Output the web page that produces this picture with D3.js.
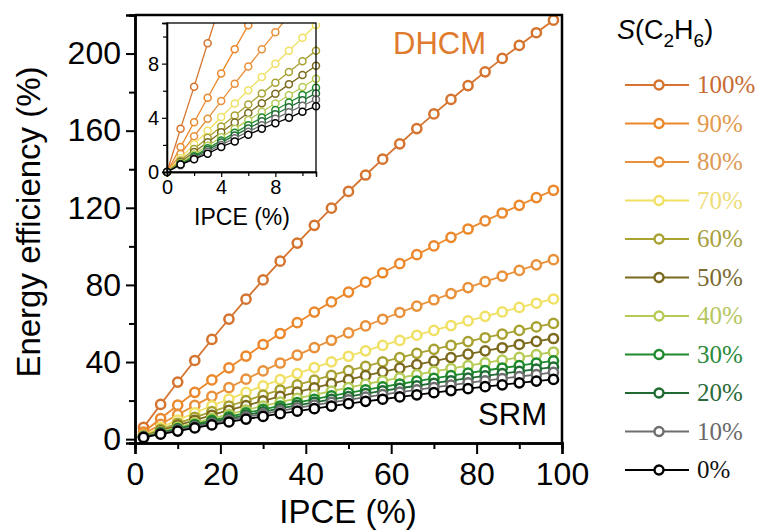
<!DOCTYPE html>
<html lang="en">
<head>
<meta charset="utf-8">
<title>Energy efficiency vs IPCE</title>
<script src="https://d3js.org/d3.v7.min.js"></script>
<style>
	body { margin: 0; background: #fff; }
	svg { font-family: "Liberation Sans", Arial, sans-serif; }
	.legtext { font-family: "Liberation Serif", "Times New Roman", serif; }
</style>
</head>
<body>
<script>
// IPCE sampling of the main plot and of the inset
var ipce = [2, 6, 10, 14, 18, 22, 26, 30, 34, 38, 42, 46, 50, 54, 58, 62, 66, 70, 74, 78, 82, 86, 90, 94, 98];
var ipceInset = [0, 1, 2, 3, 4, 5, 6, 7, 8, 9, 10, 11];

var labels = ["100%", "90%", "80%", "70%", "60%", "50%", "40%", "30%", "20%", "10%", "0%"];
var colors = ["#d5742f", "#ec882c", "#e8913a", "#f0e064", "#a8a232", "#7b6a1e", "#b6cb56", "#1f8a2c", "#1f6b32", "#6e6e6e", "#000000"];
var textColors = ["#c86a32", "#e29a4c", "#dc9a56", "#eedc78", "#a8a040", "#7a6a30", "#b6c65e", "#2a8a3a", "#2a6a3a", "#6a6a6a", "#111111"];

// energy efficiency (%) per S(C2H6), main plot
var e100 = [6.1, 18.0, 29.6, 40.8, 51.7, 62.3, 72.6, 82.6, 92.3, 101.7, 110.9, 119.8, 128.5, 137.0, 145.2, 153.2, 161.1, 168.7, 176.2, 183.4, 190.5, 197.5, 204.2, 210.8, 217.3];
var e90 = [3.6, 10.7, 17.6, 24.3, 30.7, 37.0, 43.1, 49.1, 54.8, 60.4, 65.9, 71.2, 76.3, 81.4, 86.3, 91.0, 95.7, 100.2, 104.7, 109.0, 113.2, 117.3, 121.3, 125.3, 129.1];
var e80 = [2.6, 7.7, 12.7, 17.5, 22.2, 26.7, 31.1, 35.4, 39.5, 43.6, 47.5, 51.3, 55.1, 58.7, 62.2, 65.7, 69.0, 72.3, 75.5, 78.6, 81.7, 84.6, 87.5, 90.4, 93.1];
var e70 = [2.0, 6.0, 9.9, 13.7, 17.3, 20.8, 24.3, 27.6, 30.9, 34.0, 37.1, 40.1, 43.0, 45.8, 48.6, 51.2, 53.9, 56.4, 58.9, 61.3, 63.7, 66.0, 68.3, 70.5, 72.7];
var e60 = [1.7, 5.0, 8.2, 11.3, 14.3, 17.2, 20.0, 22.8, 25.5, 28.1, 30.6, 33.1, 35.5, 37.8, 40.1, 42.3, 44.5, 46.6, 48.6, 50.6, 52.6, 54.5, 56.4, 58.2, 60.0];
var e50 = [1.5, 4.3, 7.1, 9.8, 12.4, 15.0, 17.4, 19.8, 22.2, 24.4, 26.6, 28.8, 30.9, 32.9, 34.9, 36.8, 38.7, 40.5, 42.3, 44.1, 45.8, 47.4, 49.1, 50.7, 52.2];
var e40 = [1.3, 3.8, 6.2, 8.5, 10.8, 12.9, 15.1, 17.2, 19.2, 21.1, 23.0, 24.9, 26.7, 28.5, 30.2, 31.8, 33.5, 35.1, 36.6, 38.1, 39.6, 41.0, 42.4, 43.8, 45.2];
var e30 = [1.1, 3.4, 5.5, 7.6, 9.7, 11.6, 13.6, 15.4, 17.2, 19.0, 20.7, 22.4, 24.0, 25.6, 27.1, 28.6, 30.1, 31.5, 32.9, 34.2, 35.6, 36.9, 38.1, 39.4, 40.6];
var e20 = [1.1, 3.1, 5.1, 7.0, 8.9, 10.7, 12.5, 14.2, 15.9, 17.5, 19.1, 20.6, 22.1, 23.6, 25.0, 26.4, 27.7, 29.0, 30.3, 31.6, 32.8, 34.0, 35.1, 36.3, 37.4];
var e10 = [1.0, 2.9, 4.7, 6.5, 8.2, 9.9, 11.5, 13.1, 14.7, 16.2, 17.6, 19.1, 20.4, 21.8, 23.1, 24.4, 25.6, 26.8, 28.0, 29.2, 30.3, 31.4, 32.5, 33.5, 34.6];
var e0 = [0.9, 2.6, 4.2, 5.8, 7.4, 8.9, 10.4, 11.8, 13.2, 14.5, 15.8, 17.1, 18.4, 19.6, 20.7, 21.9, 23.0, 24.1, 25.2, 26.2, 27.2, 28.2, 29.2, 30.1, 31.0];

// inset (low IPCE)
var i100 = [0, 3.2, 6.3, 9.5, 12.6, 15.7, 18.8, 21.9, 24.9, 27.9, 30.9, 33.9];
var i90 = [0, 1.84, 3.67, 5.48, 7.28, 9.07, 10.84, 12.6, 14.3, 16.1, 17.8, 19.5];
var i80 = [0, 1.32, 2.64, 3.94, 5.24, 6.52, 7.79, 9.06, 10.31, 11.56, 12.8, 14.0];
var i70 = [0, 1.03, 2.04, 3.05, 4.06, 5.05, 6.04, 7.01, 7.99, 8.95, 9.91, 10.86];
var i60 = [0, 0.85, 1.69, 2.52, 3.35, 4.17, 4.98, 5.79, 6.59, 7.39, 8.18, 8.96];
var i50 = [0, 0.74, 1.47, 2.2, 2.93, 3.65, 4.36, 5.07, 5.77, 6.47, 7.16, 7.84];
var i40 = [0, 0.65, 1.3, 1.94, 2.57, 3.2, 3.83, 4.45, 5.06, 5.67, 6.28, 6.88];
var i30 = [0, 0.59, 1.17, 1.75, 2.32, 2.89, 3.46, 4.02, 4.58, 5.13, 5.68, 6.22];
var i20 = [0, 0.55, 1.09, 1.63, 2.17, 2.7, 3.22, 3.74, 4.26, 4.78, 5.29, 5.8];
var i10 = [0, 0.5, 1.0, 1.5, 2.0, 2.49, 2.98, 3.46, 3.94, 4.42, 4.89, 5.36];
var i0 = [0, 0.55, 0.95, 1.35, 1.85, 2.25, 2.75, 3.2, 3.6, 4.0, 4.45, 4.85];

var mainSeries = [e100, e90, e80, e70, e60, e50, e40, e30, e20, e10, e0];
var insetSeries = [i100, i90, i80, i70, i60, i50, i40, i30, i20, i10, i0];

var width = 768, height = 531;

var svg = d3.select("body").append("svg")
	.attr("width", width)
	.attr("height", height);

// main plot
var x = d3.scaleLinear().domain([0, 100]).range([135, 562]);
var y = d3.scaleLinear().domain([-2, 220]).range([443, 15]);

var plot = svg.append("g");

var line = d3.line()
	.x(function(d) { return x(d[0]); })
	.y(function(d) { return y(d[1]); });

mainSeries.forEach(function(vals, k) {
	var pts = vals.map(function(v, i) { return [ipce[i], v]; });
	var g = plot.append("g");
	g.append("path")
		.attr("d", line(pts))
		.attr("fill", "none")
		.attr("stroke", colors[k])
		.attr("stroke-width", 1.8);
	g.selectAll("circle")
		.data(pts)
		.enter()
		.append("circle")
		.attr("cx", function(d) { return x(d[0]); })
		.attr("cy", function(d) { return y(d[1]); })
		.attr("r", 4.6)
		.attr("fill", "#fff")
		.attr("stroke", colors[k])
		.attr("stroke-width", 2.5);
});

// frame
svg.append("path")
	.attr("d", "M" + x(0) + "," + y(220) + "H" + x(100) + "V" + y(-2))
	.attr("fill", "none")
	.attr("stroke", "#000")
	.attr("stroke-width", 2.5);

var xAxis = svg.append("g")
	.attr("transform", "translate(0," + y(-2) + ")")
	.call(d3.axisBottom(x).tickValues([0, 20, 40, 60, 80, 100]).tickSize(11).tickPadding(6));
svg.append("g")
	.attr("transform", "translate(0," + y(-2) + ")")
	.call(d3.axisBottom(x).tickValues([10, 30, 50, 70, 90]).tickSize(6).tickFormat(""));

var yAxis = svg.append("g")
	.attr("transform", "translate(" + x(0) + ",0)")
	.call(d3.axisLeft(y).tickValues([0, 40, 80, 120, 160, 200]).tickSize(9).tickPadding(5));
svg.append("g")
	.attr("transform", "translate(" + x(0) + ",0)")
	.call(d3.axisLeft(y).tickValues([20, 60, 100, 140, 180]).tickSize(6).tickFormat(""));

svg.selectAll(".domain").attr("stroke-width", 2.5);
svg.selectAll(".tick line").attr("stroke-width", 2);
svg.selectAll(".tick text")
	.attr("font-size", 32)
	.attr("font-family", "Liberation Sans, Arial, sans-serif")
	.attr("fill", "#000");
xAxis.selectAll(".tick text").attr("dy", "0.78em");

svg.append("text")
	.attr("transform", "translate(40,222) rotate(-90)")
	.attr("text-anchor", "middle")
	.attr("font-size", 33)
	.text("Energy efficiency (%)");

svg.append("text")
	.attr("x", 348)
	.attr("y", 523)
	.attr("text-anchor", "middle")
	.attr("font-size", 33)
	.text("IPCE (%)");

svg.append("text")
	.attr("x", 486)
	.attr("y", 54)
	.attr("text-anchor", "end")
	.attr("font-size", 31)
	.attr("fill", "#e07a2e")
	.text("DHCM");

svg.append("text")
	.attr("x", 547)
	.attr("y", 425)
	.attr("text-anchor", "end")
	.attr("font-size", 31)
	.attr("fill", "#000")
	.text("SRM");

// inset
var xi = d3.scaleLinear().domain([0, 11]).range([167, 316]);
var yi = d3.scaleLinear().domain([0, 11]).range([172, 23]);

var inset = svg.append("g");
inset.append("rect")
	.attr("x", xi(0)).attr("y", yi(11))
	.attr("width", xi(11) - xi(0)).attr("height", yi(0) - yi(11))
	.attr("fill", "#fff");

svg.append("clipPath").attr("id", "insetClip")
	.append("rect")
	.attr("x", xi(0) - 5).attr("y", yi(11))
	.attr("width", xi(11) - xi(0) + 10).attr("height", yi(0) - yi(11) + 5);

var lineI = d3.line()
	.x(function(d) { return xi(d[0]); })
	.y(function(d) { return yi(d[1]); });

var insetData = inset.append("g").attr("clip-path", "url(#insetClip)");
insetSeries.forEach(function(vals, k) {
	var pts = vals.map(function(v, i) { return [ipceInset[i], v]; });
	var g = insetData.append("g");
	g.append("path")
		.attr("d", lineI(pts))
		.attr("fill", "none")
		.attr("stroke", colors[k])
		.attr("stroke-width", 1.3);
	g.selectAll("circle")
		.data(pts.filter(function(d) { return d[1] <= 11.3; }))
		.enter()
		.append("circle")
		.attr("cx", function(d) { return xi(d[0]); })
		.attr("cy", function(d) { return yi(d[1]); })
		.attr("r", 3.5)
		.attr("fill", "#fff")
		.attr("stroke", colors[k])
		.attr("stroke-width", 1.5);
});

inset.append("rect")
	.attr("x", xi(0)).attr("y", yi(11))
	.attr("width", xi(11) - xi(0)).attr("height", yi(0) - yi(11))
	.attr("fill", "none")
	.attr("stroke", "#000")
	.attr("stroke-width", 1.3);

var xiAxis = inset.append("g")
	.attr("transform", "translate(0," + yi(0) + ")")
	.call(d3.axisBottom(xi).tickValues([0, 4, 8]).tickSize(5).tickPadding(3));
inset.append("g")
	.attr("transform", "translate(0," + yi(0) + ")")
	.call(d3.axisBottom(xi).tickValues([2, 6, 10]).tickSize(4).tickFormat(""));
var yiAxis = inset.append("g")
	.attr("transform", "translate(" + xi(0) + ",0)")
	.call(d3.axisLeft(yi).tickValues([0, 4, 8]).tickSize(5).tickPadding(3));
inset.append("g")
	.attr("transform", "translate(" + xi(0) + ",0)")
	.call(d3.axisLeft(yi).tickValues([2, 6, 10]).tickSize(4).tickFormat(""));

inset.selectAll(".domain").attr("stroke-width", 1.3);
inset.selectAll(".tick line").attr("stroke-width", 1.2);
inset.selectAll(".tick text")
	.attr("font-size", 20)
	.attr("font-family", "Liberation Sans, Arial, sans-serif")
	.attr("fill", "#000");

inset.append("text")
	.attr("x", 242)
	.attr("y", 225)
	.attr("text-anchor", "middle")
	.attr("font-size", 23)
	.text("IPCE (%)");

// legend
var legend = svg.append("g");
var title = legend.append("text")
	.attr("x", 617)
	.attr("y", 39)
	.attr("font-size", 27);
title.append("tspan").attr("font-style", "italic").text("S");
title.append("tspan").text("(C");
title.append("tspan").attr("font-size", 19).attr("dy", 8).text("2");
title.append("tspan").attr("dy", -8).text("H");
title.append("tspan").attr("font-size", 19).attr("dy", 8).text("6");
title.append("tspan").attr("dy", -8).text(")");

var ly = d3.scalePoint().domain(labels).range([85, 470]);

var rows = legend.selectAll(".row")
	.data(labels)
	.enter()
	.append("g")
	.attr("class", "row")
	.attr("transform", function(d) { return "translate(0," + ly(d) + ")"; });

rows.append("line")
	.attr("x1", 625).attr("x2", 689)
	.attr("stroke", function(d, i) { return colors[i]; })
	.attr("stroke-width", 2.2);
rows.append("circle")
	.attr("cx", 659)
	.attr("r", 4.5)
	.attr("fill", "#fff")
	.attr("stroke", function(d, i) { return colors[i]; })
	.attr("stroke-width", 2.4);
rows.append("text")
	.attr("class", "legtext")
	.attr("x", 697)
	.attr("y", 8)
	.attr("font-size", 25)
	.attr("fill", function(d, i) { return textColors[i]; })
	.text(function(d) { return d; });
</script>
</body>
</html>
